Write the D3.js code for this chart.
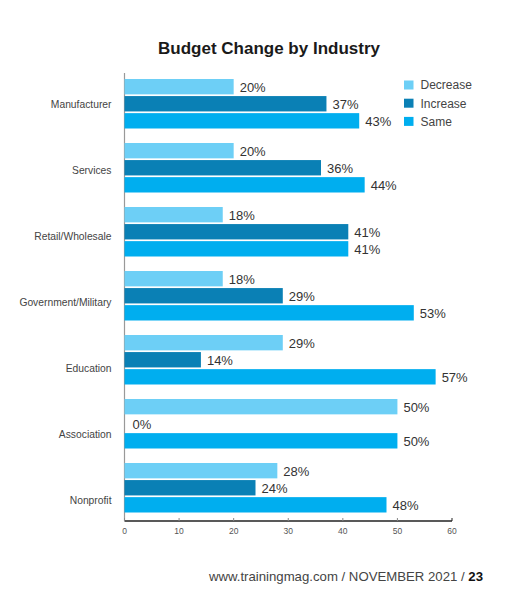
<!DOCTYPE html>
<html>
<head>
<meta charset="utf-8">
<script src="https://cdn.jsdelivr.net/npm/d3@7"></script>
<style>
  body { margin: 0; background: #fff; }
  svg { display: block; font-family: "Liberation Sans", Arial, sans-serif; }
</style>
</head>
<body>
<div id="chart"></div>
<script>
// data
const industries = ['Manufacturer', 'Services', 'Retail/Wholesale', 'Government/Military', 'Education', 'Association', 'Nonprofit'];
const seriesNames = ['Decrease', 'Increase', 'Same'];
const decreaseVals = [20, 20, 18, 18, 29, 50, 28];
const increaseVals = [37, 36, 41, 29, 14, 0, 24];
const sameVals = [43, 44, 41, 53, 57, 50, 48];
const xTicks = [0, 10, 20, 30, 40, 50, 60];

const colors = ['#6dcff6', '#0a80b5', '#00aeef'];

const W = 518, H = 600;
const margin = { t: 73, r: 66, b: 79, l: 124.5 };

const rows = industries.map((name, i) => ({
  name,
  vals: [decreaseVals[i], increaseVals[i], sameVals[i]]
}));

const svg = d3.select('#chart')
  .append('svg')
  .attr('width', W)
  .attr('height', H);

const x = d3.scaleLinear().domain([0, 60]).range([margin.l, W - margin.r]);
const y0 = d3.scaleBand().domain(industries).range([margin.t, H - margin.b]);
const y1 = d3.scaleBand().domain(seriesNames).range([6, 55.5]).paddingInner(0.1);
// category labels drift a bit lower than the bar groups in the original
const yLabel = d3.scalePoint().domain(industries).range([104, 500]);
const color = d3.scaleOrdinal().domain(seriesNames).range(colors);

// title
svg.append('text')
  .attr('x', 269)
  .attr('y', 54)
  .attr('text-anchor', 'middle')
  .style('font-size', '17px')
  .style('font-weight', 'bold')
  .style('fill', '#1a1a1a')
  .text('Budget Change by Industry');

// y axis line
svg.append('line')
  .attr('x1', x(0)).attr('x2', x(0))
  .attr('y1', margin.t).attr('y2', H - margin.b)
  .style('stroke', '#999')
  .style('stroke-width', 1.2);

svg.selectAll('.cat')
  .data(industries)
  .enter()
  .append('text')
  .attr('class', 'cat')
  .attr('x', 111.5)
  .attr('y', d => yLabel(d))
  .attr('dy', '0.35em')
  .attr('text-anchor', 'end')
  .style('font-size', '10.3px')
  .style('fill', '#444')
  .text(d => d);

const groups = svg.selectAll('.group')
  .data(rows)
  .enter()
  .append('g')
  .attr('class', 'group')
  .attr('transform', d => `translate(0, ${y0(d.name)})`);

const bars = groups.selectAll('.bar')
  .data(d => d.vals.map((v, i) => ({ key: seriesNames[i], v })))
  .enter();

bars.append('rect')
  .attr('class', 'bar')
  .attr('x', x(0))
  .attr('y', d => y1(d.key))
  .attr('width', d => x(d.v) - x(0))
  .attr('height', y1.bandwidth())
  .style('fill', d => color(d.key));

bars.append('text')
  .attr('x', d => x(d.v) + (d.v === 0 ? 8 : 6))
  .attr('y', d => y1(d.key) + y1.bandwidth() / 2)
  .attr('dy', '0.38em')
  .style('font-size', '13px')
  .style('fill', '#333')
  .text(d => d.v + '%');

// x axis
const xAxis = svg.append('g')
  .attr('transform', `translate(0, ${H - margin.b})`);

xAxis.append('line')
  .attr('x1', x(0)).attr('x2', x(60))
  .style('stroke', '#222')
  .style('stroke-width', 1.5);

xAxis.selectAll('.tick')
  .data(xTicks)
  .enter()
  .append('line')
  .attr('x1', d => x(d)).attr('x2', d => x(d))
  .attr('y1', 0).attr('y2', -3)
  .style('stroke', d => (d === 60 ? '#222' : '#888'))
  .style('stroke-width', 1);

xAxis.selectAll('.tlabel')
  .data(xTicks)
  .enter()
  .append('text')
  .attr('x', d => x(d))
  .attr('y', 13)
  .attr('text-anchor', 'middle')
  .style('font-size', '8.5px')
  .style('fill', '#555')
  .text(d => d);

// legend
const legend = svg.append('g')
  .attr('transform', 'translate(404, 80.5)');

const li = legend.selectAll('.li')
  .data(seriesNames)
  .enter()
  .append('g')
  .attr('transform', (d, i) => `translate(0, ${i * 18.2})`);

li.append('rect')
  .attr('width', 9.5)
  .attr('height', 9)
  .style('fill', d => color(d));

li.append('text')
  .attr('x', 16.5)
  .attr('y', 4.5)
  .attr('dy', '0.36em')
  .style('font-size', '12px')
  .style('fill', '#444')
  .text(d => d);

// footer
const foot = svg.append('text')
  .attr('x', 483)
  .attr('y', 581)
  .attr('text-anchor', 'end')
  .style('font-size', '13.2px')
  .style('fill', '#444');
foot.append('tspan').text('www.trainingmag.com / NOVEMBER 2021 / ');
foot.append('tspan').style('font-weight', 'bold').style('fill', '#111').text('23');
</script>
</body>
</html>
